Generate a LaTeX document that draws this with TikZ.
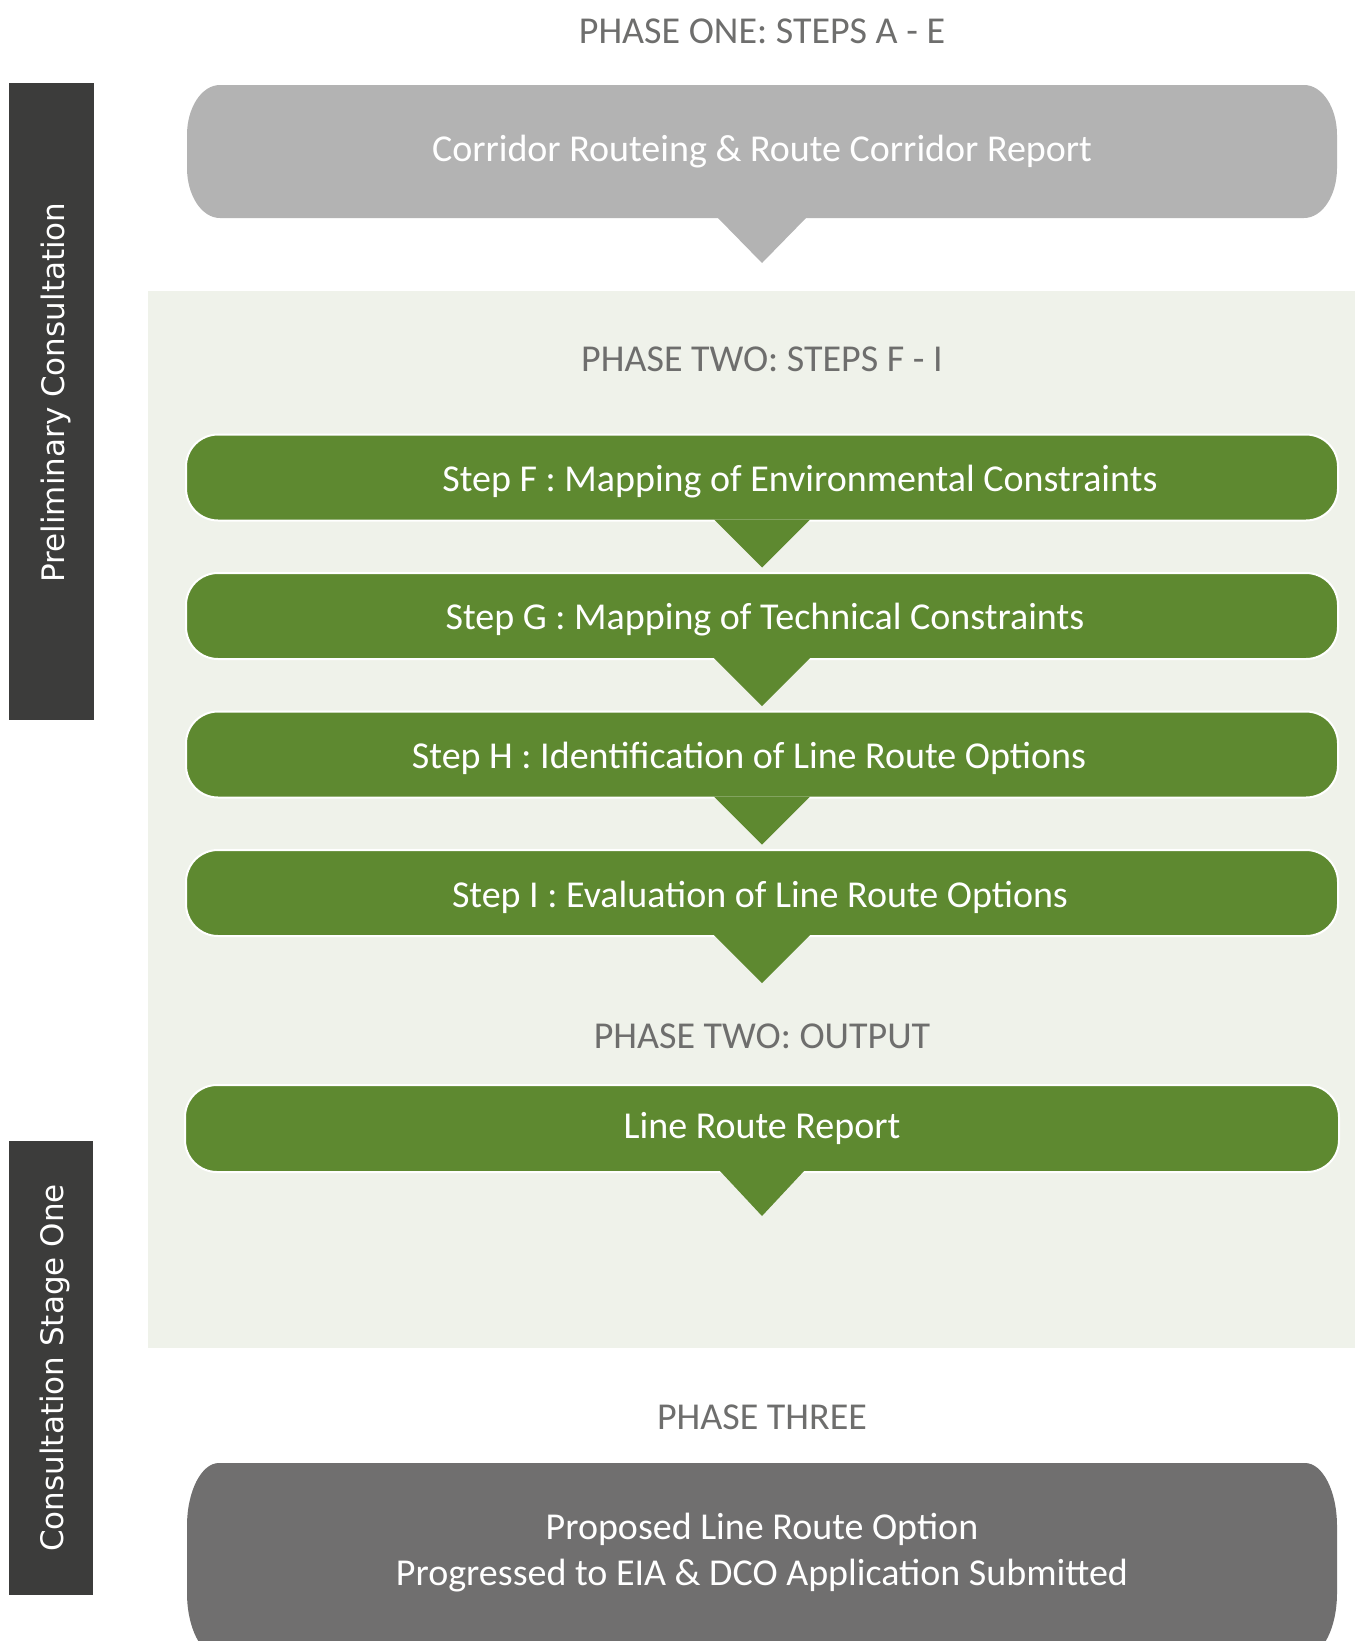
\documentclass[tikz,border=0pt]{standalone}
\usepackage{fontspec}
\setmainfont{Carlito}
\newfontfamily\sidefont{DejaVu Sans}
\usetikzlibrary{positioning}
\definecolor{headgray}{HTML}{6E6E6D}
\definecolor{boxgray}{HTML}{B3B3B3}
\definecolor{stepgreen}{HTML}{5E8930}
\definecolor{palegreen}{HTML}{EFF2EA}
\definecolor{bargray}{HTML}{3C3C3B}
\definecolor{endgray}{HTML}{706F6F}
% box with elliptic corners: colour, left, top, right, bottom, rx, ry
\newcommand{\ellbox}[7]{%
  \fill[#1] ({#2+#6},#3) -- ({#4-#6},#3)
    arc[start angle=90,end angle=0,x radius=#6,y radius=#7] -- (#4,{#5+#7})
    arc[start angle=0,end angle=-90,x radius=#6,y radius=#7] -- ({#2+#6},#5)
    arc[start angle=-90,end angle=-180,x radius=#6,y radius=#7] -- (#2,{#3-#7})
    arc[start angle=180,end angle=90,x radius=#6,y radius=#7] -- cycle;}

\begin{document}
\begin{tikzpicture}[x=1pt,y=1pt,font=\fontsize{38}{46}\selectfont,
    phase/.style={text=headgray},
    stepbox/.style={fill=stepgreen,draw=white,line width=2pt,
      rounded corners=32pt,minimum width=1152pt,minimum height=86pt},
    steptext/.style={text=white},
    sidebar/.style={fill=bargray,rotate=90},
    sidetext/.style={text=white,rotate=90,
      font=\sidefont\fontsize{31}{34}\selectfont}]
\pgfmathsetmacro{\xc}{762} % asse centrale
\useasboundingbox (0,0) rectangle (1355,-1641);
\clip (0,0) rectangle (1355,-1641);

\fill[palegreen] (148,-291) rectangle (1355,-1348); % fondo fase due
\node[sidebar,minimum width=637pt,minimum height=85pt] (prelim) at (51.5,-401.5) {};
\node[sidetext] at ([xshift=4pt,yshift=9pt]prelim.center) {Preliminary Consultation};
\node[sidebar,minimum width=454pt,minimum height=84pt] (stageone) at (51,-1368) {};
\node[sidetext] at ([xshift=4pt]stageone.center) {Consultation Stage One};

% fase uno
\node[phase] (phaseone) at (\xc,-31) {PHASE ONE: STEPS A - E};
\ellbox{boxgray}{187}{-85}{1337}{-218}{33}{50}
\node[text=white] (corridor) at (\xc,-152) {Corridor Routeing \& Route Corridor Report};
\coordinate (cb) at (\xc,-217);
\fill[boxgray] ([xshift=-45pt]cb) -- ([xshift=45pt]cb) -- ([yshift=-46pt]cb) -- cycle;

% fase due
\node[phase] (phasetwo) at (\xc,-359) {PHASE TWO: STEPS F - I};
\foreach \name/\y/\dx/\txt in
    {stepF/477.5/38/{Step F : Mapping of Environmental Constraints},
     stepG/616/3/{Step G : Mapping of Technical Constraints},
     stepH/754.5/-13/{Step H : Identification of Line Route Options},
     stepI/893/-2/{Step I : Evaluation of Line Route Options}}{
  \node[stepbox] (\name) at (\xc,-\y) {};
  \node[steptext] at ([xshift=\dx pt,yshift=-4pt]\name.center) {\txt};
  \fill[stepgreen] ([xshift=-48pt,yshift=2pt]\name.south) --
       ([xshift=48pt,yshift=2pt]\name.south) -- ([yshift=-46pt]\name.south) -- cycle;
}
\node[phase] (output) at (\xc,-1036) {PHASE TWO: OUTPUT};
\node[stepbox,minimum width=1154pt,minimum height=87pt,steptext] (report)
     at (\xc,-1128.5) {Line Route Report};
\fill[stepgreen] ([xshift=-42pt,yshift=2pt]report.south) --
     ([xshift=42pt,yshift=2pt]report.south) -- ([yshift=-43pt]report.south) -- cycle;

% fase tre
\node[phase] (phasethree) at (\xc,-1417) {PHASE THREE};
\ellbox{endgray}{187}{-1463}{1337}{-1656}{32}{63}
\node[text=white,align=center] (proposed) at (\xc,-1553)
     {Proposed Line Route Option\\Progressed to EIA \& DCO Application Submitted};
\end{tikzpicture}
\end{document}
